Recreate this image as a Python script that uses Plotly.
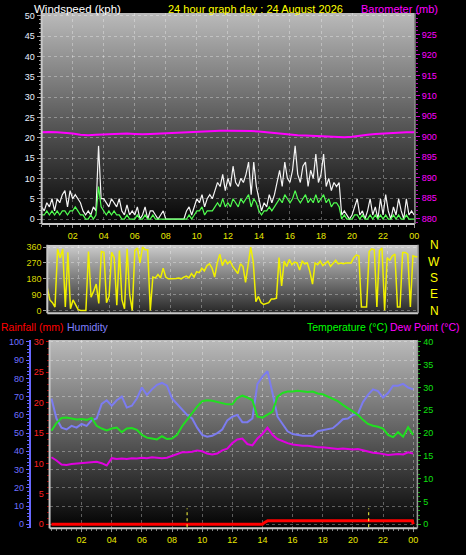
import base64
import plotly.graph_objects as go

W, H = 466, 555

def px(x):
    return x / W

def py(y):
    return 1 - y / H

# ---------------- DATA ----------------
# 10-minute samples (145 points, hour 0 .. 24)
wind_gust = [
    3, 2, 4, 3, 5, 2,
    5, 4, 6, 7, 3, 7,
    5, 6, 5, 4, 2, 1,
    2, 1, 3, 2, 18, 5,
    5, 4, 3, 5, 4, 3,
    5, 2, 1, 3.5, 1, 2,
    1, 3, 0, 1, 3, 0,
    2, 2, 1, 0, 1, 2,
    0, 0, 0, 0, 0, 0,
    0, 0, 2, 3, 1, 3,
    5, 4, 6, 3, 5, 6,
    5, 7, 9, 8, 11, 7,
    10, 8, 13, 9, 8, 10,
    9, 11, 14, 6, 14, 8,
    5, 2, 4, 3, 6, 4,
    6, 9, 12, 8, 14, 10,
    9, 12, 18, 11, 9, 13,
    14, 8, 12, 10, 16, 9,
    11, 16, 8, 10, 7, 9,
    8, 9, 1, 2, 1, 0,
    1, 3, 5, 1, 2, 0,
    2, 5, 1, 3, 0, 5,
    1, 6, 2, 0, 3, 1,
    5, 2, 0, 5, 1, 2,
    1,
]
wind_speed = [
    1, 1, 2, 1, 2, 1,
    2, 1, 2, 2, 1, 2,
    2, 3, 2, 1, 1, 0,
    0, 1, 0, 1, 8, 3,
    2, 1, 2, 1, 2, 1,
    1, 0, 0, 1, 0, 0,
    0, 1, 0, 0, 1, 0,
    0, 1, 0, 0, 0, 0,
    0, 0, 0, 0, 0, 0,
    0, 0, 0, 1, 0, 1,
    2, 2, 3, 1, 2, 2,
    2, 3, 4, 3, 5, 3,
    4, 3, 5, 4, 3, 5,
    4, 5, 6, 3, 5, 4,
    2, 1, 2, 2, 3, 2,
    3, 4, 5, 4, 6, 5,
    4, 5, 7, 5, 4, 5,
    6, 4, 5, 4, 6, 4,
    5, 6, 4, 5, 3, 4,
    4, 3, 0, 1, 0, 0,
    0, 1, 1, 0, 1, 0,
    0, 1, 0, 1, 0, 1,
    0, 1, 0, 0, 1, 0,
    1, 0, 0, 1, 0, 0,
    0,
]
wind_dir = [
    130, 60, 45, 20, 350, 300,
    350, 20, 330, 10, 60, 35,
    5, 0, 0, 0, 335, 75,
    110, 150, 40, 335, 330, 45,
    80, 330, 300, 30, 340, 60,
    10, 350, 90, 0, 340, 355,
    270, 360, 345, 345, 0, 190,
    185, 205, 185, 240, 190, 180,
    180, 180, 182, 185, 180, 190,
    195, 185, 210, 190, 220, 215,
    240, 225, 255, 265, 240, 190,
    270, 320, 255, 290, 265, 280,
    250, 230, 210, 265, 250, 160,
    270, 360, 275, 50, 80, 45,
    35, 40, 45, 65, 65, 70,
    300, 140, 280, 250, 290, 260,
    275, 270, 230, 280, 265, 270,
    220, 150, 270, 260, 280, 255,
    265, 280, 250, 270, 285, 265,
    270, 265, 270, 270, 270, 300,
    315, 310, 20, 20, 20, 335,
    350, 345, 20, 340, 355, 0,
    300, 285, 310, 320, 20, 20,
    330, 330, 320, 20, 310, 305,
    305,
]
# half-hourly barometer (49 points)
barometer = [
    901.1, 901.2, 901.1, 901.0, 900.8, 900.5, 900.4, 900.5,
    900.6, 900.7, 900.7, 900.8, 900.7, 900.6, 900.7, 900.8,
    900.9, 901.0, 901.1, 901.2, 901.3, 901.4, 901.4, 901.5,
    901.5, 901.5, 901.4, 901.4, 901.3, 901.1, 901.0, 900.8,
    900.6, 900.4, 900.3, 900.2, 900.1, 900.0, 900.0, 899.9,
    900.0, 900.3, 900.5, 900.7, 900.8, 901.0, 901.0, 901.1,
    901.1,
]
# 20-minute samples (73 points)
humidity = [
    69, 58, 53, 52, 54, 53, 55, 54, 57, 58, 66, 68,
    65, 68, 70, 64, 65, 69, 75, 71, 74, 76.5, 77.5, 76,
    69, 66, 63, 60, 58, 53, 49, 48, 48.5, 50, 52, 57,
    59, 60, 56, 56, 58, 77, 81, 84, 72, 59, 55, 51,
    49.5, 49, 48.5, 48.5, 48.5, 51, 51.5, 52, 52.7, 55, 57.6, 58,
    60, 60.5, 67, 71, 74, 73, 69.5, 72, 76, 76, 77, 75,
    74,
]
temperature = [
    20.5, 22.2, 23.3, 23.4, 23.2, 23.0, 23.1, 22.9, 23.3, 21.6, 21.0, 20.6,
    21.0, 21.2, 20.2, 21.0, 21.1, 20.7, 19.6, 19.0, 18.8, 18.6, 19.3, 18.7,
    18.8, 19.6, 21.5, 23.0, 24.3, 25.8, 27.0, 27.2, 27.1, 26.8, 26.6, 26.3,
    26.3, 27.7, 28.2, 27.8, 27.2, 23.6, 23.4, 24.1, 24.7, 28.0, 28.8, 29.1,
    29.1, 29.3, 29.1, 29.0, 29.1, 28.7, 28.5, 28.0, 27.5, 27.0, 26.2, 25.5,
    24.8, 24.0, 22.9, 22.0, 21.6, 21.4, 21.0, 19.6, 19.1, 20.2, 19.2, 21.3,
    19.6,
]
dew_point = [
    14.7, 14.0, 13.1, 13.0, 13.2, 13.3, 13.4, 13.5, 13.7, 13.7, 13.4, 12.9,
    14.5, 14.3, 14.4, 14.3, 14.5, 14.4, 14.6, 14.5, 14.7, 14.6, 14.5, 14.6,
    15.0, 15.3, 15.8, 15.8, 15.9, 16.2, 16.0, 15.5, 15.3, 15.5, 16.2, 16.6,
    17.8, 18.6, 18.8, 17.6, 17.3, 18.8, 19.8, 21.2, 19.6, 18.7, 18.2, 17.8,
    17.5, 17.3, 17.2, 17.2, 17.0, 16.9, 16.9, 16.8, 16.6, 16.5, 16.6, 16.5,
    16.4, 16.5, 16.2, 15.9, 15.7, 15.6, 15.4, 15.2, 15.3, 15.4, 15.3, 15.8,
    15.5,
]
rain_hours = [0, 14.0, 14.15, 14.35, 23.95, 24.0]
rain_mm = [0, 0, 0.3, 0.6, 0.6, 0]
sun_marks = [9.0, 21.05]

hour_ticks = [2, 4, 6, 8, 10, 12, 14, 16, 18, 20, 22, 24]
hour_labels = ["02", "04", "06", "08", "10", "12", "14", "16", "18", "20", "22", "00"]
wind_ticks = [0, 5, 10, 15, 20, 25, 30, 35, 40, 45, 50]
baro_ticks = [880, 885, 890, 895, 900, 905, 910, 915, 920, 925, 930]
baro_labels = ["880", "885", "890", "895", "900", "905", "910", "915", "920", "925", ""]
dir_ticks = [0, 90, 180, 270, 360]
compass = ["N", "W", "S", "E", "N"]
hum_ticks = [0, 10, 20, 30, 40, 50, 60, 70, 80, 90, 100]
rain_ticks = [0, 5, 10, 15, 20, 25, 30]
temp_ticks = [0, 5, 10, 15, 20, 25, 30, 35, 40]

t10 = [i / 6 for i in range(len(wind_gust))]
t30 = [i / 2 for i in range(len(barometer))]
t20 = [i / 3 for i in range(len(humidity))]

FONT = "Liberation Sans, Arial, sans-serif"
GRID = "rgba(255,255,255,0.32)"

fig = go.Figure()
fig.add_trace(go.Scatter(x=t10, y=wind_gust, mode="lines", xaxis="x", yaxis="y",
                         line=dict(color="#f4f4f4", width=1.2), hoverinfo="skip"))
fig.add_trace(go.Scatter(x=t10, y=wind_speed, mode="lines", xaxis="x", yaxis="y",
                         line=dict(color="#50ff50", width=1.2), hoverinfo="skip"))
fig.add_trace(go.Scatter(x=t30, y=barometer, mode="lines", xaxis="x", yaxis="y2",
                         line=dict(color="#ff00ff", width=2), hoverinfo="skip"))
fig.add_trace(go.Scatter(x=t10, y=wind_dir, mode="lines", xaxis="x2", yaxis="y3",
                         line=dict(color="#f0f000", width=1.5), hoverinfo="skip"))
fig.add_trace(go.Scatter(x=t20, y=humidity, mode="lines", xaxis="x3", yaxis="y5",
                         line=dict(color="#7c7cf0", width=2), hoverinfo="skip"))
fig.add_trace(go.Scatter(x=t20, y=temperature, mode="lines", xaxis="x3", yaxis="y6",
                         line=dict(color="#20e020", width=2), hoverinfo="skip"))
fig.add_trace(go.Scatter(x=t20, y=dew_point, mode="lines", xaxis="x3", yaxis="y6",
                         line=dict(color="#e000e0", width=2), hoverinfo="skip"))
fig.add_trace(go.Scatter(x=rain_hours, y=rain_mm, mode="lines", xaxis="x3", yaxis="y4",
                         line=dict(color="#ff0000", width=3), hoverinfo="skip"))

# ---------------- background gradients (SVG images) & frames ----------------
images = []

def gradient(x0, x1, y0, y1, c_top, c_mid, c_bot):
    svg = (
        '<svg xmlns="http://www.w3.org/2000/svg" width="100" height="100" preserveAspectRatio="none" viewBox="0 0 100 100">'
        '<defs><linearGradient id="g" x1="0" y1="0" x2="0" y2="1">'
        f'<stop offset="0" stop-color="rgb({c_top},{c_top},{c_top})"/>'
        f'<stop offset="0.5" stop-color="rgb({c_mid},{c_mid},{c_mid})"/>'
        f'<stop offset="1" stop-color="rgb({c_bot},{c_bot},{c_bot})"/>'
        '</linearGradient></defs><rect x="0" y="0" width="100" height="100" fill="url(#g)"/></svg>'
    )
    src = "data:image/svg+xml;base64," + base64.b64encode(svg.encode()).decode()
    images.append(dict(source=src, xref="paper", yref="paper", x=px(x0), y=py(y0),
                       sizex=px(x1) - px(x0), sizey=py(y0) - py(y1),
                       xanchor="left", yanchor="top", sizing="stretch", layer="below"))

gradient(42, 418, 10, 223, 186, 92, 4)
gradient(47.7, 421.7, 244, 313, 205, 122, 38)
gradient(50, 421, 340, 530, 186, 94, 2)

shapes = []
for (x0, x1, y0, y1) in [(42, 418.5, 10, 223), (47.7, 421.7, 244, 313), (50, 421, 340, 530)]:
    shapes.append(dict(type="line", xref="paper", yref="paper", layer="above",
                       x0=px(x0), x1=px(x0), y0=py(y0), y1=py(y1),
                       line=dict(color="#c8c8c8", width=2)))
    shapes.append(dict(type="line", xref="paper", yref="paper", layer="above",
                       x0=px(x0), x1=px(x1), y0=py(y1), y1=py(y1),
                       line=dict(color="#c8c8c8", width=2)))
    shapes.append(dict(type="line", xref="paper", yref="paper", layer="above",
                       x0=px(x1), x1=px(x1), y0=py(y0), y1=py(y1),
                       line=dict(color="#9a9a9a", width=1.5)))

for s in sun_marks:
    shapes.append(dict(type="line", xref="x3", yref="paper", layer="above",
                       x0=s, x1=s, y0=py(529), y1=py(510),
                       line=dict(color="#ffff40", width=1, dash="dot")))

# ---------------- annotations ----------------
ann = []
def label(text, x, y, color, size=11, anchor="left"):
    ann.append(dict(text=text, x=px(x), y=py(y), xref="paper", yref="paper",
                    xanchor=anchor, yanchor="middle", showarrow=False, borderpad=0,
                    font=dict(family=FONT, size=size, color=color)))

label("Windspeed (kph)", 33, 6, "#ffffff", size=11.5)
label("24 hour graph day : 24 August 2026", 258, 6, "#ffff00", anchor="center")
label("Barometer (mb)", 443, 6, "#ff00ff", anchor="right", size=11)
label("Rainfall (mm)", 0, 327, "#ff0000", size=10.5)
label("Humidity", 67, 327, "#8080ff", size=10.5)
label("Temperature (°C)", 392, 327, "#00ff00", anchor="right", size=10.5)
label("Dew Point (°C)", 465, 327, "#ff00ff", anchor="right", size=10.5)
for i, c in enumerate(compass):
    label(c, 438, 244.5 + i * 16.5, "#ffff00", size=12, anchor="center")

tickfont = lambda c: dict(family=FONT, size=9, color=c)

fig.update_layout(
    width=W, height=H,
    margin=dict(l=0, r=0, t=0, b=0),
    paper_bgcolor="#000000", plot_bgcolor="rgba(0,0,0,0)",
    showlegend=False,
    shapes=shapes, annotations=ann, images=images,
    xaxis=dict(domain=[px(42), px(418.5)], range=[0, 24.05], anchor="y",
               tickmode="array", tickvals=hour_ticks, ticktext=hour_labels,
               tickfont=tickfont("#e8e800"), ticks="outside", ticklen=3, tickcolor="#909090",
               minor=dict(dtick=0.5, tick0=0, ticks="outside", ticklen=2, tickcolor="#909090", showgrid=False),
               showgrid=True, gridcolor=GRID, griddash="dot", gridwidth=1,
               zeroline=False, showline=False, fixedrange=True),
    yaxis=dict(domain=[py(223), py(10)], range=[-1.22, 50.73], anchor="x",
               tickmode="array", tickvals=wind_ticks, tickfont=tickfont("#e8f0ff"),
               ticks="outside", ticklen=4, tickcolor="#a0a0a0",
               minor=dict(dtick=1, tick0=0, ticks="outside", ticklen=2, tickcolor="#a0a0a0", showgrid=False),
               showgrid=True, gridcolor=GRID, griddash="dot", zeroline=False, showline=False),
    yaxis2=dict(overlaying="y", side="right", anchor="x", range=[878.72, 930.25],
                tickmode="array", tickvals=baro_ticks, ticktext=baro_labels, tickfont=tickfont("#ff00ff"),
                ticks="outside", ticklen=4, tickcolor="#d000d0",
                minor=dict(dtick=1, tick0=880, ticks="outside", ticklen=2, tickcolor="#b000b0", showgrid=False),
                showgrid=False, zeroline=False, showline=False),
    xaxis2=dict(domain=[px(47.7), px(421.7)], range=[0, 24], anchor="y3",
                tickmode="array", tickvals=hour_ticks, showticklabels=False, ticks="",
                showgrid=True, gridcolor=GRID, griddash="dot", zeroline=False, showline=False),
    yaxis3=dict(domain=[py(313), py(244)], range=[-15, 373], anchor="x2",
                tickmode="array", tickvals=dir_ticks, tickfont=tickfont("#d8d800"),
                ticks="outside", ticklen=3, tickcolor="#a0a0a0",
                showgrid=True, gridcolor=GRID, griddash="dot", zeroline=False, showline=False),
    xaxis3=dict(domain=[px(50), px(421)], range=[-0.125, 24.28], anchor="y4",
                tickmode="array", tickvals=hour_ticks, ticktext=hour_labels,
                tickfont=tickfont("#e8e800"), ticks="outside", ticklen=3, tickcolor="#909090",
                minor=dict(dtick=1 / 3, tick0=0, ticks="outside", ticklen=2, tickcolor="#808080", showgrid=False),
                showgrid=True, gridcolor=GRID, griddash="dot", zeroline=False, showline=False),
    yaxis4=dict(domain=[py(530), py(340)], range=[-0.65, 30.33], anchor="x3", side="left",
                tickmode="array", tickvals=rain_ticks, tickfont=tickfont("#ff2020"),
                ticks="outside", ticklen=3, tickcolor="#c00000",
                minor=dict(dtick=1, tick0=0, ticks="outside", ticklen=2, tickcolor="#900000", showgrid=False),
                showgrid=False, zeroline=False, showline=False),
    yaxis5=dict(overlaying="y4", anchor="free", position=px(30), side="left",
                range=[-2.17, 101.1], tickmode="array", tickvals=hum_ticks,
                tickfont=tickfont("#7070ff"), ticks="outside", ticklen=3, tickcolor="#6060ff",
                minor=dict(dtick=2, tick0=0, ticks="outside", ticklen=2, tickcolor="#6060ff", showgrid=False),
                showline=True, linecolor="#6868ff", linewidth=2,
                showgrid=True, gridcolor=GRID, griddash="dot", zeroline=False),
    yaxis6=dict(overlaying="y4", anchor="x3", side="right", range=[-0.87, 40.43],
                tickmode="array", tickvals=temp_ticks, tickfont=tickfont("#10e010"),
                ticks="outside", ticklen=3, tickcolor="#10c010",
                minor=dict(dtick=1, tick0=0, ticks="outside", ticklen=2, tickcolor="#10a010", showgrid=False),
                showgrid=False, zeroline=False, showline=False),
)

fig.write_html(
    "out.html",
    config={"displayModeBar": False, "staticPlot": True},
    post_script="document.body.style.margin='0';document.body.style.padding='0';"
                "document.documentElement.style.overflow='hidden';document.body.style.overflow='hidden';",
)
